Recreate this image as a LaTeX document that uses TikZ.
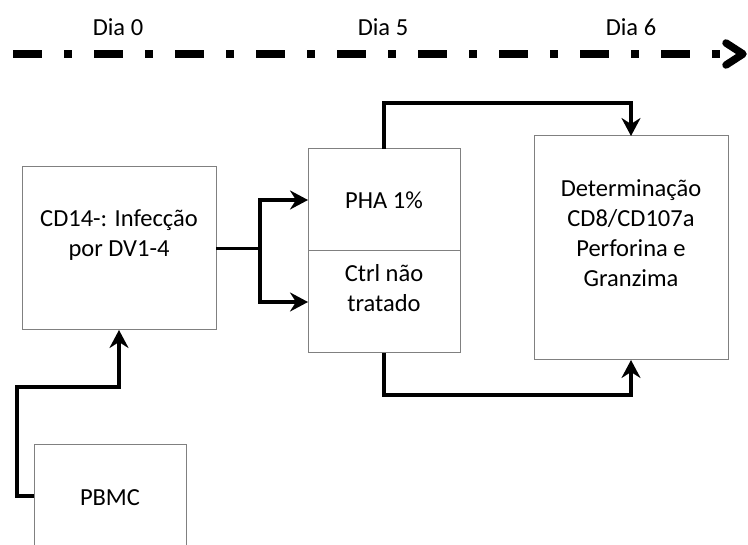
\documentclass[tikz,border=0pt]{standalone}
\usepackage{fontspec}
\setmainfont{Carlito}
\usetikzlibrary{arrows.meta}
\begin{document}
\begin{tikzpicture}[x=1pt,y=-1pt,
  box/.style={draw=black!50,line width=1pt,inner sep=0pt,outer sep=0pt},
  txt/.style={align=center,inner sep=0pt,font=\fontsize{24.5}{30}\selectfont},
  conn/.style={line width=3.5pt,line join=miter},
  tip/.style={-{Stealth[length=18pt,width=19pt,inset=6pt]}}]
\useasboundingbox (0,0) rectangle (748,545);
% timeline
\coordinate (t0) at (13,54);
\coordinate (t1) at (720,54);
\draw[line width=8pt,dash pattern=on 29pt off 22pt on 8pt off 22pt] (t0) -- (t1);
\coordinate (c1) at (726,43);
\coordinate (c2) at (743,54);
\coordinate (c3) at (726,65);
\draw[line width=7.5pt,line cap=round,line join=round] (c1) -- (c2) -- (c3);
\node[txt] (d0) at (118,27) {Dia 0};
\node[txt] (d5) at (383,27) {Dia 5};
\node[txt] (d6) at (631,27) {Dia 6};
% boxes
\node[box,minimum width=194pt,minimum height=163pt] (cd14) at (119,248.5) {};
\node[box,minimum width=152pt,minimum height=102pt] (pha) at (384,200) {};
\node[box,minimum width=152pt,minimum height=102pt] (ctrl) at (384,302) {};
\node[box,minimum width=194pt,minimum height=224pt] (det) at (631,248) {};
\node[box,minimum width=152pt,minimum height=200pt] (pbmc) at (110,545) {};
% texts
\node[txt] (cd14t) at (119,235) {CD14-: Infecção\\por DV1-4};
\node[txt] (phat) at (384,200) {PHA 1\%};
\node[txt] (ctrlt) at (384,288) {Ctrl não\\tratado};
\node[txt] (dett) at (631,233) {Determinação\\CD8/CD107a\\Perforina e\\Granzima};
\node[txt] (pbmct) at (110,498) {PBMC};
% connectors
\coordinate (br) at (260,248.5);
\draw[conn] (cd14.east) -- (br);
\draw[conn,tip] (br) |- (pha.west);
\draw[conn,tip] (br) |- (ctrl.west);
\draw[conn,tip] (pha.north) -- ++(0,-46) -| (det.north);
\draw[conn,tip] (ctrl.south) -- ++(0,42) -| (det.south);
\draw[conn,tip] ([yshift=49pt]pbmc.west) -- ++(-17,0) -- ++(0,-109) -| (cd14.south);
\end{tikzpicture}
\end{document}
